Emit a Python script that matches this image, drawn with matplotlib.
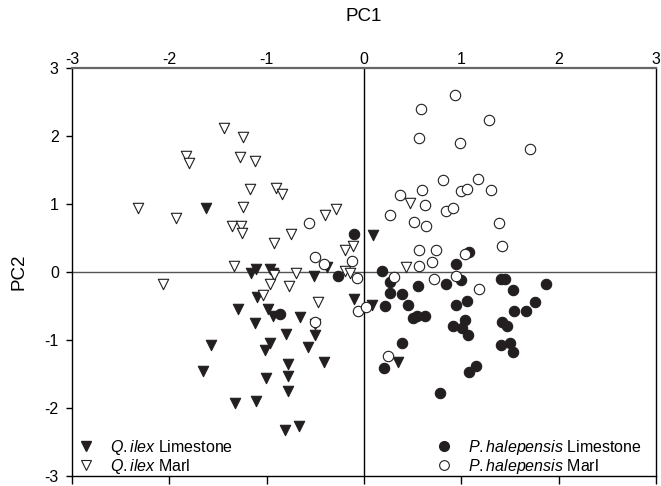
import matplotlib
matplotlib.use("Agg")
import matplotlib.pyplot as plt
from matplotlib.lines import Line2D

plt.rcParams['font.family'] = ['Liberation Sans', 'DejaVu Sans']
plt.rcParams['mathtext.fontset'] = 'custom'
plt.rcParams['mathtext.rm'] = 'Liberation Sans'
plt.rcParams['mathtext.it'] = 'Liberation Sans:italic'

# Q. ilex Limestone (filled triangles)
qil_x = [-1.62, 0.09, -0.38, -1.16, -1.11, -0.97, -0.94, -0.51, -1.10, -1.29, -0.99,
         -0.93, -0.66, -1.12, -0.80, -0.50, -0.97, -1.02, -0.58, -0.10, 0.08, -1.57,
         -1.65, -0.78, -0.41, -0.78, -1.01, -0.78, -1.33, -1.11, -0.81, -0.67, 0.35]
qil_y = [0.94, 0.55, 0.07, -0.01, 0.04, 0.05, -0.02, -0.06, -0.37, -0.55, -0.54,
         -0.64, -0.66, -0.75, -0.91, -0.93, -1.05, -1.15, -1.10, -0.40, -0.49, -1.07,
         -1.45, -1.35, -1.32, -1.53, -1.56, -1.75, -1.93, -1.89, -2.33, -2.27, -1.33]

# Q. ilex Marl (open triangles)
qim_x = [-1.44, -1.24, -1.83, -1.80, -1.27, -1.12, -1.17, -1.24, -2.32, -1.93, -1.36,
         -1.26, -1.25, -1.34, -2.07, -0.90, -0.84, -0.40, -0.29, -0.75, -0.92, -0.20,
         -0.11, -0.70, -0.92, -0.97, -0.77, -1.04, -0.47, -0.20, -0.14, -0.50, 0.47, 0.43]
qim_y = [2.12, 1.98, 1.70, 1.60, 1.69, 1.63, 1.22, 0.96, 0.94, 0.79, 0.68,
         0.68, 0.57, 0.09, -0.17, 1.23, 1.14, 0.84, 0.92, 0.56, 0.42, 0.33,
         0.38, -0.01, -0.04, -0.17, -0.20, -0.34, -0.44, 0.01, -0.02, -0.77, 1.02, 0.07]

# P. halepensis Limestone (filled circles)
phl_x = [-0.10, -0.27, -0.86, 0.19, 0.27, 0.55, 0.27, 0.39, 0.22, 0.45, 0.50, 0.54,
         0.63, 0.39, 1.08, 0.95, 1.07, 0.21, 0.78, 1.08, 1.15, 0.84, 1.00, 0.95, 1.06,
         1.04, 1.01, 0.91, 1.41, 1.45, 1.53, 1.87, 1.76, 1.54, 1.66, 1.42, 1.47, 1.41,
         1.50, 1.53]
phl_y = [0.56, -0.06, -0.62, 0.01, -0.15, -0.21, -0.31, -0.33, -0.50, -0.48, -0.68, -0.65,
         -0.64, -1.04, 0.30, 0.12, -0.92, -1.41, -1.78, -1.47, -1.38, -0.17, -0.12, -0.48, -0.43,
         -0.71, -0.82, -0.79, -0.11, -0.11, -0.27, -0.17, -0.44, -0.58, -0.58, -0.73, -0.80, -1.07,
         -1.05, -1.17]

# P. halepensis Marl (open circles)
phm_x = [-0.56, -0.50, -0.41, -0.12, -0.07, -0.06, 0.02, -0.50, 0.27, 0.37, 0.60, 0.63,
         0.51, 0.64, 0.57, 0.56, 0.31, 0.25, 0.94, 0.59, 1.28, 0.56, 0.99, 1.71, 0.81,
         1.17, 1.00, 1.06, 1.30, 0.84, 0.91, 1.39, 1.42, 0.74, 0.70, 1.04, 0.72, 0.95, 1.18]
phm_y = [0.72, 0.22, 0.12, 0.16, -0.09, -0.58, -0.51, -0.73, 0.84, 1.13, 1.21, 0.98,
         0.74, 0.67, 0.32, 0.09, -0.07, -1.23, 2.60, 2.40, 2.23, 1.97, 1.89, 1.81, 1.36,
         1.37, 1.19, 1.22, 1.20, 0.90, 0.94, 0.72, 0.38, 0.32, 0.15, 0.27, -0.11, -0.06, -0.25]

ticks = [-3, -2, -1, 0, 1, 2, 3]
tick_labels = ['-3', '-2', '-1', '0', '1', '2', '3']
labels = [r'$\it{Q.ilex}$ Limestone', r'$\it{Q.ilex}$ Marl',
          r'$\it{P.halepensis}$ Limestone', r'$\it{P.halepensis}$ Marl']

fig = plt.figure(figsize=(6.61, 4.86), dpi=100)
ax = fig.add_axes([72/661, 10/486, 584/661, 408/486])

dark = '#231f20'
ax.axhline(0, color='#555555', lw=1.0, zorder=1)
ax.axvline(0, color='black', lw=1.0, zorder=1)

ms = 56
ax.scatter(qil_x, qil_y, marker='v', s=ms, facecolor=dark, edgecolor=dark, lw=0.8, zorder=3)
ax.scatter(qim_x, qim_y, marker='v', s=ms, facecolor='white', edgecolor=dark, lw=0.8, zorder=3)
ax.scatter(phl_x, phl_y, marker='o', s=ms, facecolor=dark, edgecolor=dark, lw=0.8, zorder=3)
ax.scatter(phm_x, phm_y, marker='o', s=ms, facecolor='white', edgecolor=dark, lw=0.8, zorder=3)

ax.set_xlim(-3, 3)
ax.set_ylim(-3, 3)
ax.set_xticks(ticks)
ax.set_xticklabels(tick_labels)
ax.set_yticks(ticks)
ax.set_yticklabels(tick_labels)
ax.tick_params(axis='x', which='major', top=False, labeltop=True, bottom=True,
               labelbottom=False, direction='out', length=6, width=1, labelsize=11.5, pad=-5)
ax.tick_params(axis='y', which='major', left=True, right=False, direction='out',
               length=4.5, width=1, labelsize=11.5, pad=5)
ax.xaxis.set_label_position('top')
ax.set_xlabel('PC1', fontsize=13.5, labelpad=22)
ax.set_ylabel('PC2', fontsize=13.5, labelpad=12)
for s in ['left', 'right', 'bottom']:
    ax.spines[s].set_color('black')
    ax.spines[s].set_linewidth(1.0)
ax.spines['top'].set_color('#666666')
ax.spines['top'].set_linewidth(1.6)

h1 = Line2D([], [], ls='none', marker='v', ms=7, mfc=dark, mec=dark)
h2 = Line2D([], [], ls='none', marker='v', ms=7, mfc='white', mec=dark, mew=0.8)
h3 = Line2D([], [], ls='none', marker='o', ms=7, mfc=dark, mec=dark)
h4 = Line2D([], [], ls='none', marker='o', ms=7, mfc='white', mec=dark, mew=0.8)

leg_kw = dict(frameon=False, fontsize=11.5, handlelength=1.2, handletextpad=0.9,
              labelspacing=0.0, borderaxespad=0.0, borderpad=0.0)
leg1 = ax.legend([h1, h2], labels[:2], loc='lower left', bbox_to_anchor=(0.008, 0.0), **leg_kw)
ax.add_artist(leg1)
ax.legend([h3, h4], labels[2:], loc='lower left', bbox_to_anchor=(0.62, 0.0), **leg_kw)

fig.savefig('out.png', dpi=100)
